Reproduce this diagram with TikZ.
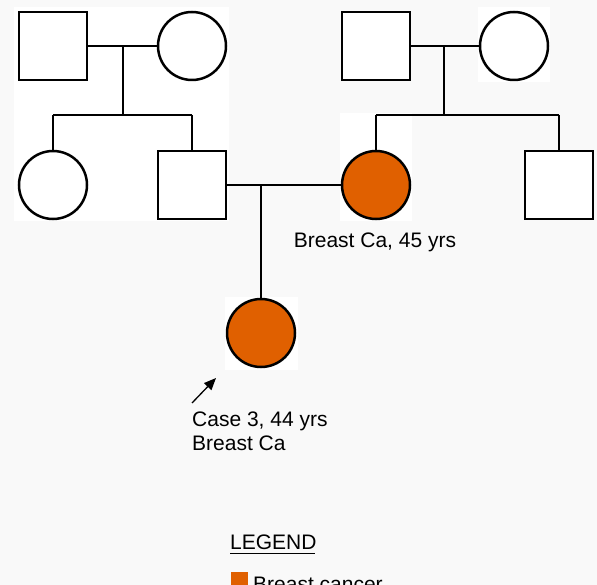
\documentclass[tikz,border=0pt]{standalone}
\usepackage{fontspec}
\setmainfont{Liberation Sans}
\usetikzlibrary{arrows.meta}
\definecolor{bgc}{HTML}{F9F9F9}
\definecolor{bca}{HTML}{E06000}
\begin{document}
\begin{tikzpicture}[x=1pt,y=-1pt,
  male/.style={draw=black,line width=2.5pt,fill=white,minimum size=68pt,inner sep=0pt,rectangle},
  female/.style={draw=black,line width=2.5pt,fill=white,minimum size=68pt,inner sep=0pt,circle},
  affected/.style={female,fill=bca},
  rel/.style={line width=1.3pt,draw=black},
  lbl/.style={font=\fontsize{21}{23.5}\selectfont,inner sep=0pt,align=left}]
\useasboundingbox (0,0) rectangle (597,585);
\fill[bgc] (0,0) rectangle (597,585);
% white patches
\fill[white] (14,7) rectangle (229,221);
\fill[white] (340,113) rectangle (412,221);
\fill[white] (478,7) rectangle (550,82);
\fill[white] (225,297) rectangle (298,370);
% nodes
\node[male] (gf1) at (53,46) {};
\node[female] (gm1) at (192,46) {};
\node[female] (aunt) at (53,185) {};
\node[male] (father) at (192,185) {};
\node[male] (gf2) at (376,46) {};
\node[female] (gm2) at (514,46) {};
\node[affected] (mother) at (376,185) {};
\node[male] (uncle) at (559,185) {};
\node[affected] (proband) at (261,333) {};
% coordinates
\coordinate (m1) at (123,46);
\coordinate (s1) at (123,115);
\coordinate (s1l) at (53,115);
\coordinate (s1r) at (192,115);
\coordinate (m2) at (444,46);
\coordinate (s2) at (444,115);
\coordinate (s2l) at (376,115);
\coordinate (s2r) at (559,115);
\coordinate (m3) at (261,185);
% connectors
\draw[rel] (gf1.east) -- (gm1.west);
\draw[rel] (m1) -- (s1);
\draw[rel] (s1l) -- (s1r);
\draw[rel] (s1l) -- (aunt.north);
\draw[rel] (s1r) -- (father.north);
\draw[rel] (gf2.east) -- (gm2.west);
\draw[rel] (m2) -- (s2);
\draw[rel] (s2l) -- (s2r);
\draw[rel] (s2l) -- (mother.north);
\draw[rel] (s2r) -- (uncle.north);
\draw[rel] (father.east) -- (mother.west);
\draw[rel] (m3) -- (proband.north);
% labels
\node[lbl,anchor=base] (lm) at (375,248) {Breast Ca, 45 yrs};
\coordinate (a1) at (192,403);
\coordinate (a2) at (216,378);
\draw[line width=1.3pt,-{Triangle[length=12pt,width=10pt]}] (a1) -- (a2);
\node[lbl,anchor=north west] (lp) at (192,412) {Case 3, 44 yrs\\Breast Ca};
\node[lbl,anchor=base west] (lg) at (230,549) {LEGEND};
\coordinate (u1) at (230,553.5);
\coordinate (u2) at (315,553.5);
\draw[line width=1.4pt] (u1) -- (u2);
\node[fill=bca,minimum size=17pt,inner sep=0pt,anchor=north west] (key) at (231,572) {};
\node[lbl,anchor=base west] (lk) at (253,591) {Breast cancer};
\end{tikzpicture}
\end{document}
